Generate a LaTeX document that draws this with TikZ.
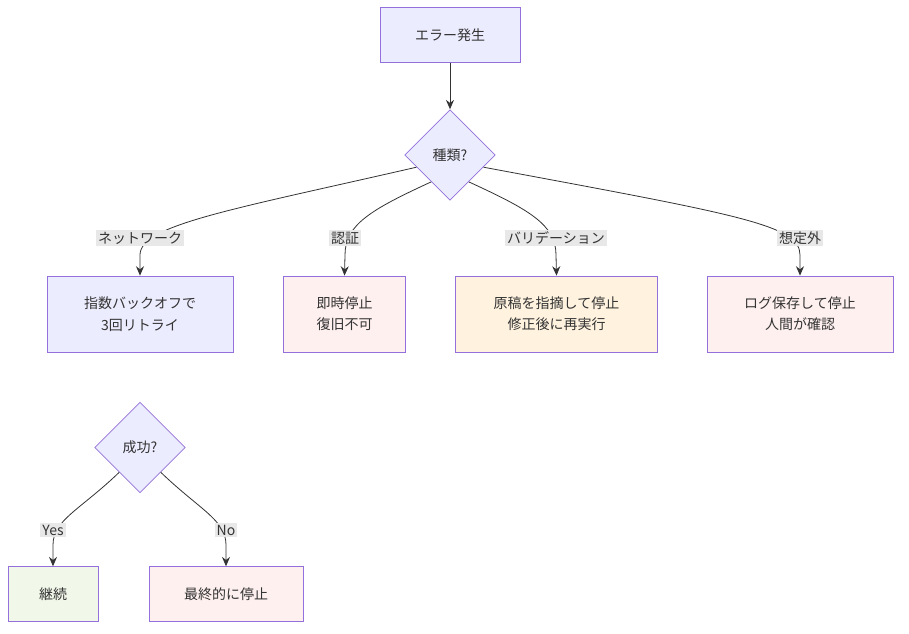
\documentclass[tikz,border=0pt]{standalone}
\usepackage{fontspec}
\setmainfont{Noto Sans CJK JP}
\usetikzlibrary{shapes.geometric,arrows.meta}
\definecolor{nb}{HTML}{ECECFF}\definecolor{ns}{HTML}{9370DB}
\definecolor{pk}{HTML}{FFF0F0}\definecolor{cr}{HTML}{FFF3E0}\definecolor{gr}{HTML}{F1F8E9}
\definecolor{lb}{HTML}{E8E8E8}\definecolor{tx}{HTML}{333333}
\begin{document}
\begin{tikzpicture}[x=0.75pt,y=-0.75pt,font=\fontsize{10.5}{16}\selectfont,text=tx,
 box/.style={draw=ns,fill=nb,line width=0.6pt,minimum height=41pt,align=center,inner sep=0pt},
 dia/.style={diamond,draw=ns,fill=nb,line width=0.6pt,minimum width=68pt,minimum height=68pt,inner sep=0pt},
 lbl/.style={fill=lb,inner sep=1.5pt,font=\fontsize{10.5}{12}\selectfont},
 e/.style={draw=tx,line width=0.6pt,-{Stealth[length=7pt,width=6pt]}}]
\useasboundingbox (0,0) rectangle (909,634);
\node[box,minimum width=105pt] (a) at (450,35) {エラー発生};
\node[dia] (t) at (450,155) {種類?};
\node[box,minimum width=139.5pt,minimum height=57pt] (n) at (140,314) {指数バックオフで\\3回リトライ};
\node[box,fill=pk,minimum width=92pt,minimum height=57pt] (au) at (344.5,314) {即時停止\\復旧不可};
\node[box,fill=cr,minimum width=151pt,minimum height=57pt] (v) at (556.5,314) {原稿を指摘して停止\\修正後に再実行};
\node[box,fill=pk,minimum width=139.5pt,minimum height=57pt] (u) at (800,314) {ログ保存して停止\\人間が確認};
\node[dia] (s) at (140,447.5) {成功?};
\node[box,fill=gr,minimum width=67.5pt] (y) at (53,594) {継続};
\node[box,fill=pk,minimum width=115.5pt] (f) at (226,594) {最終的に停止};
\draw[e] (a) -- (t);
\draw[e] (t.200) .. controls (230,210) and (140,225) .. (140,255) -- (n.north);
\draw[e] (t.235) .. controls (370,210) and (345,225) .. (345,255) -- (au.north);
\draw[e] (t.305) .. controls (530,210) and (556,225) .. (556,255) -- (v.north);
\draw[e] (t.340) .. controls (740,215) and (800,225) .. (800,255) -- (u.north);
\draw[e] (s.230) .. controls (80,510) and (53,520) .. (53,545) -- (y.north);
\draw[e] (s.310) .. controls (200,510) and (226,520) .. (226,545) -- (f.north);
\node[lbl] at (140,238) {ネットワーク};
\node[lbl] at (345,238) {認証};
\node[lbl] at (556,238) {バリデーション};
\node[lbl] at (800,238) {想定外};
\node[lbl] at (53,530) {Yes};
\node[lbl] at (226,530) {No};
\end{tikzpicture}
\end{document}
